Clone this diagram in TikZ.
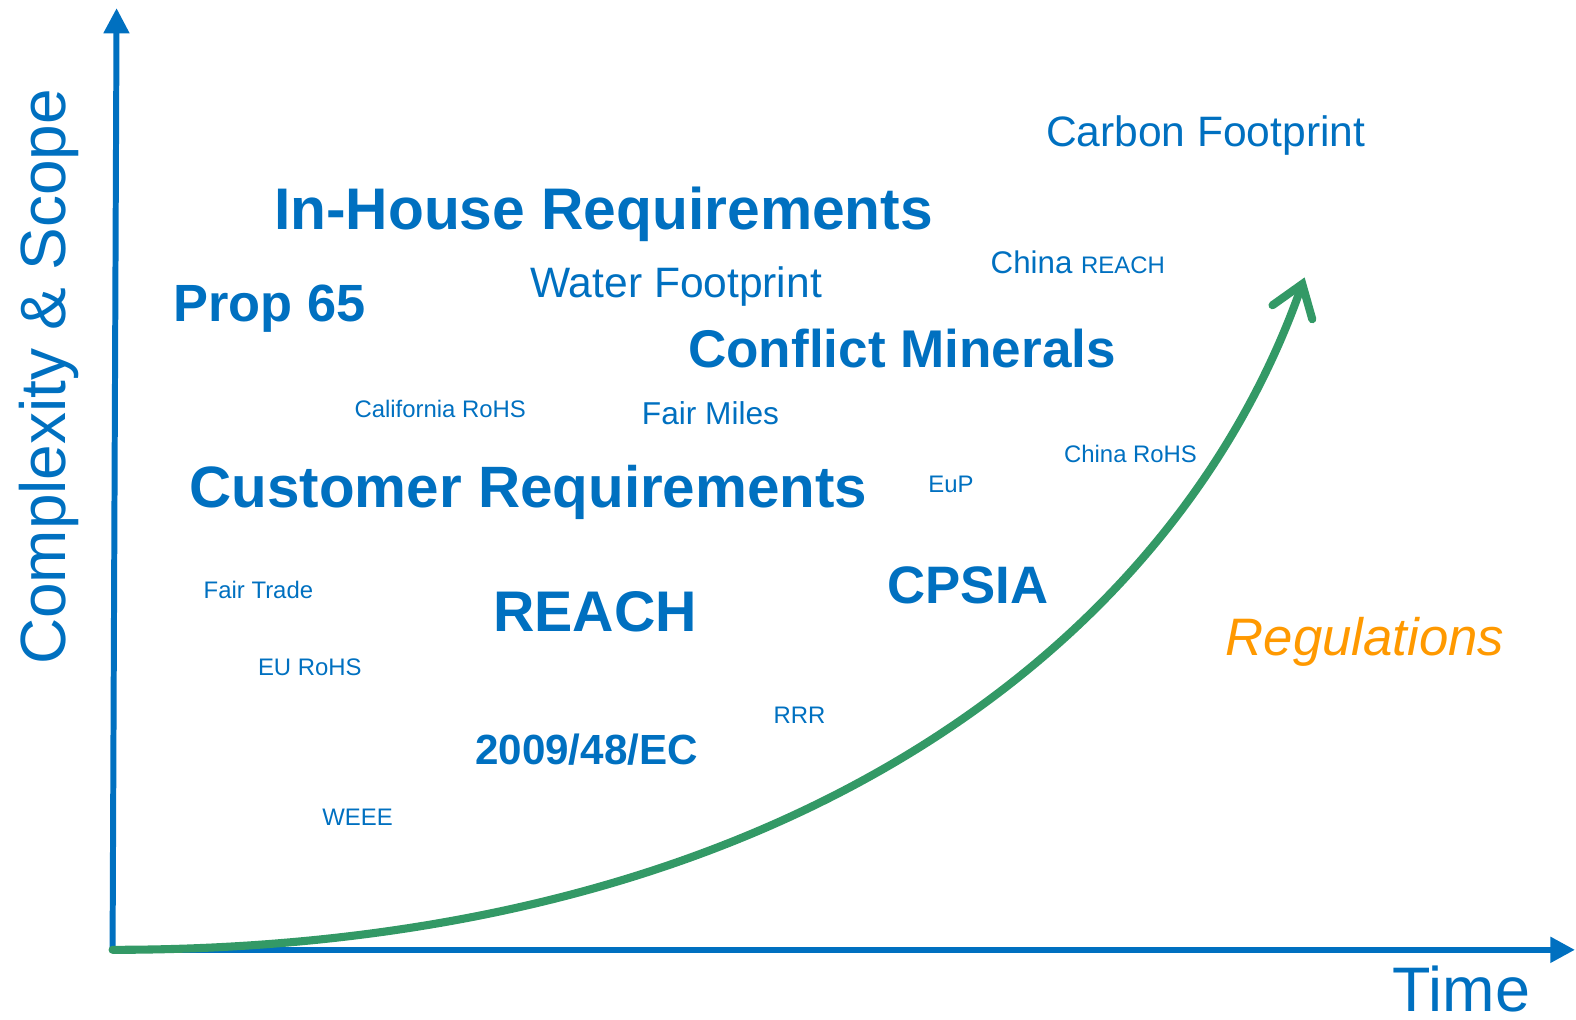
\documentclass[tikz,border=0pt]{standalone}
\usepackage{fontspec}
\setmainfont{Liberation Sans}
\usepackage{tikz}
\usepackage{xcolor}
\usetikzlibrary{arrows.meta}
\definecolor{axblue}{HTML}{0070C0}
\definecolor{curvegreen}{HTML}{339966}
\definecolor{regorange}{HTML}{FF9900}
\newcommand{\fsz}[1]{\fontsize{#1}{#1}\selectfont}

\begin{document}
\begin{tikzpicture}[x=0.1005mm,y=-0.1005mm,
    lbl/.style={text=axblue,anchor=base west,inner sep=0pt},
    big/.style={lbl,font=\fsz{16.7pt}\bfseries},
    small/.style={lbl,font=\fsz{6.8pt}}]
	\useasboundingbox (0,0) rectangle (1568,1014);
	\coordinate (o) at (112,945);
	\coordinate (ytop) at (116,8);
	\coordinate (xend) at (1567,945);
	\coordinate (gtip) at (1298,276);
	\draw[axblue,line width=1.7pt,-{Triangle[length=7.2pt,width=7pt]}] (o)--(ytop);
	\draw[axblue,line width=1.7pt,-{Triangle[length=7pt,width=7pt]}] (o)--(xend);
	\draw[curvegreen,line width=2.3pt,line cap=round,-{Straight Barb[length=8.5pt,width=12pt,line cap=round]}]
	   (o) .. controls (780,945) and (1170,640) .. (gtip);
	% axis labels
	\path (65,375) node(ax1)[text=axblue,rotate=90,anchor=base,inner sep=0pt,font=\fsz{18.2pt}]{Complexity \& Scope};
	\path (1385,1006) node(ax2)[lbl,font=\fsz{17.9pt}]{Time};
	% regulations
	\path (1040,146) node(r1)[lbl,font=\fsz{12.1pt}]{Carbon Footprint};
	\path (272,228) node(r2)[big]{In-House Requirements};
	\path (172,320) node(r3)[big,font=\fsz{14.9pt}\bfseries]{Prop 65};
	\path (527,296) node(r4)[lbl,font=\fsz{12.1pt}]{Water Footprint};
	\path (985,272) node(r5)[lbl,font=\fsz{8.9pt}]{China {\fsz{6.8pt}REACH}};
	\path (684,366) node(r6)[big,font=\fsz{15.1pt}\bfseries]{Conflict Minerals};
	\path (352,415) node(r7)[small]{California RoHS};
	\path (638,422) node(r8)[lbl,font=\fsz{9pt}]{Fair Miles};
	\path (1058,460) node(r9)[small]{China RoHS};
	\path (188,505) node(r10)[big,font=\fsz{16.6pt}\bfseries]{Customer Requirements};
	\path (923,490) node(r11)[small]{EuP};
	\path (202,595) node(r12)[small]{Fair Trade};
	\path (490,628) node(r13)[big,font=\fsz{16.3pt}\bfseries]{REACH};
	\path (882,600) node(r14)[big,font=\fsz{15pt}\bfseries]{CPSIA};
	\path (1219,652) node(r15)[lbl,text=regorange,font=\fsz{15pt}\itshape]{Regulations};
	\path (256,672) node(r16)[small]{EU RoHS};
	\path (769,720) node(r17)[small]{RRR};
	\path (472,761) node(r18)[big,font=\fsz{12pt}\bfseries]{2009/48/EC};
	\path (320,821) node(r19)[small]{WEEE};
\end{tikzpicture}
\end{document}
